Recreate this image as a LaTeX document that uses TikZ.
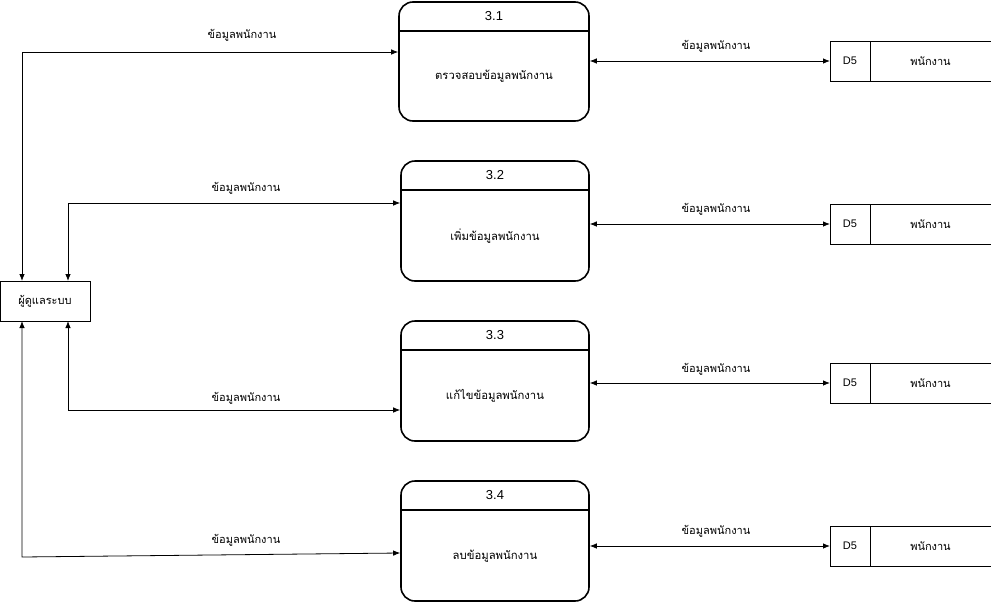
\documentclass[tikz,border=0pt]{standalone}
\usepackage{fontspec}
\setmainfont{Liberation Sans}
\newfontfamily\thai[Script=Thai]{Loma}
\usetikzlibrary{arrows.meta}
\begin{document}
\begin{tikzpicture}[x=1pt,y=-1pt,
  both/.style={{Latex[length=7pt,width=5.5pt]}-{Latex[length=7pt,width=5.5pt]}},
  conn/.style={draw=black,line width=0.8pt},
  proc/.style={draw=black,line width=1.6pt,rounded corners=14pt,minimum width=188pt,minimum height=120pt,inner sep=0pt},
  storeid/.style={draw=black,line width=0.8pt,outer sep=0pt,minimum width=40pt,minimum height=40pt,inner sep=0pt,font=\fontsize{11}{13}\selectfont},
  storename/.style={minimum width=121pt,minimum height=40pt,inner sep=0pt,outer sep=0pt,font=\fontsize{11}{13}\selectfont\thai},
  lbl/.style={font=\fontsize{11}{13}\selectfont\thai,inner sep=1pt},
  num/.style={font=\fontsize{13}{15}\selectfont,inner sep=1pt},
  body/.style={font=\fontsize{11.3}{13}\selectfont\thai,inner sep=1pt}]
\useasboundingbox (0,0) rectangle (991,603);

% entity
\node[draw=black,line width=0.8pt,minimum width=90pt,minimum height=40pt,inner sep=0pt,outer sep=0pt,font=\fontsize{11}{13}\selectfont\thai] (ent) at (45,301) {ผู้ดูแลระบบ};

% processes
\node[proc,minimum width=190pt,minimum height=119pt] (p1) at (494,61.5) {};
\node[proc] (p2) at (495,221) {};
\node[proc] (p3) at (495,381) {};
\node[proc] (p4) at (495,541) {};
\foreach \p/\n/\t in {p1/3.1/ตรวจสอบข้อมูลพนักงาน,p2/3.2/เพิ่มข้อมูลพนักงาน,p3/3.3/แก้ไขข้อมูลพนักงาน,p4/3.4/ลบข้อมูลพนักงาน}{
  \draw[line width=1.6pt] ([yshift=-30pt]\p.north west) -- ([yshift=-30pt]\p.north east);
  \node[num] (\p n) at ([yshift=-15pt]\p.north) {\n};
  \node[body] (\p b) at ([yshift=-15pt]\p.center) {\t};
}

% data stores
\foreach \s/\y in {s1/61,s2/224,s3/383,s4/546}{
  \node[storeid] (\s) at (850,\y) {D5};
  \node[storename] (\s n) at (930.5,\y) {พนักงาน};
  \draw[line width=0.8pt] (\s.north east) -- (\s n.north east);
  \draw[line width=0.8pt] (\s.south east) -- (\s n.south east);
}

% process <-> store
\draw[conn,both] (s1.west -| p1.east) -- (s1.west);
\draw[conn,both] (s2.west -| p2.east) -- (s2.west);
\draw[conn,both] (s3.west -| p3.east) -- (s3.west);
\draw[conn,both] (s4.west -| p4.east) -- (s4.west);
\node[lbl] (l5) at (716,46) {ข้อมูลพนักงาน};
\node[lbl] (l6) at (716,209) {ข้อมูลพนักงาน};
\node[lbl] (l7) at (716,369) {ข้อมูลพนักงาน};
\node[lbl] (l8) at (716,531) {ข้อมูลพนักงาน};

% entity <-> processes
\draw[conn,both] ([xshift=22pt]ent.north west) |- ([yshift=9.5pt]p1.west);
\draw[conn,both] ([xshift=68pt]ent.north west) |- ([yshift=18pt]p2.west);
\draw[conn,both] ([xshift=68pt]ent.south west) |- ([yshift=-29pt]p3.west);
\coordinate (c4) at (22,557);
\draw[conn,both] ([xshift=22pt]ent.south west) -- (c4) -- ([yshift=-12pt]p4.west);
\node[lbl] (l1) at (242,35) {ข้อมูลพนักงาน};
\node[lbl] (l2) at (246,188) {ข้อมูลพนักงาน};
\node[lbl] (l3) at (246,398) {ข้อมูลพนักงาน};
\node[lbl] (l4) at (246,540) {ข้อมูลพนักงาน};
\end{tikzpicture}
\end{document}
